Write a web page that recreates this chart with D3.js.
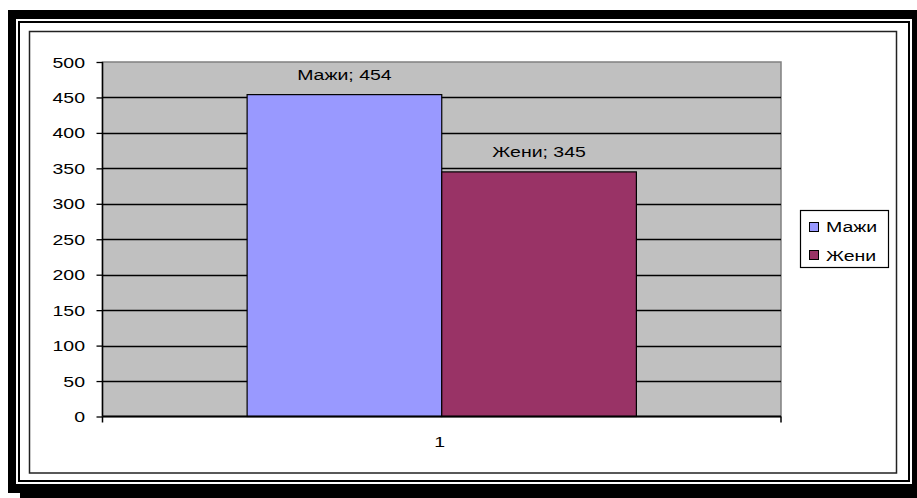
<!DOCTYPE html>
<html><head><meta charset="utf-8">
<script src="https://cdn.jsdelivr.net/npm/d3@7"></script>
<style>html,body{margin:0;padding:0;background:#fff;}svg{display:block;}</style>
</head><body>
<script>
const categories = ["1"];
const seriesNames = ["Мажи", "Жени"];
const seriesValues = [454, 345];
const seriesColors = ["#9999FF", "#993366"];
const yTicks = [0, 50, 100, 150, 200, 250, 300, 350, 400, 450, 500];

const W = 917, H = 498;
const svg = d3.select("body").append("svg").attr("width", W).attr("height", H);
const font = "'Liberation Sans', Arial, sans-serif";
const SX = 1.3, FS = 15;

function label(sel, x, yy, txt, anchor) {
  return sel.append("text").attr("transform", `translate(${x},${yy}) scale(${SX},1)`)
    .attr("text-anchor", anchor || "start").attr("font-family", font).attr("font-size", FS)
    .attr("fill", "#000").text(txt);
}

// Frame with shadow
svg.append("rect").attr("x", 20).attr("y", 22).attr("width", 897).attr("height", 476).attr("fill", "#000");
svg.append("rect").attr("x", 8).attr("y", 10).attr("width", 909).attr("height", 483).attr("fill", "#000");
svg.append("rect").attr("x", 16).attr("y", 19).attr("width", 896).attr("height", 465).attr("fill", "#fff");
svg.append("rect").attr("x", 19).attr("y", 22).attr("width", 890).attr("height", 459)
  .attr("fill", "none").attr("stroke", "#000").attr("stroke-width", 2);
// chart area border
svg.append("rect").attr("x", 29.5).attr("y", 31.5).attr("width", 867).attr("height", 441.5)
  .attr("fill", "#fff").attr("stroke", "#222").attr("stroke-width", 1.5);

const plot = {l: 102.5, r: 781, t: 62, b: 416.5};
const y = d3.scaleLinear().domain([0, 500]).range([plot.b, plot.t]);
const x0 = d3.scaleBand().domain(categories).range([plot.l, plot.r]).paddingInner(0).paddingOuter(0.3715);
const x1 = d3.scaleBand().domain(seriesNames).range([0, x0.bandwidth()]);

// plot bg
svg.append("rect").attr("x", plot.l).attr("y", plot.t).attr("width", plot.r - plot.l).attr("height", plot.b - plot.t)
  .attr("fill", "#C0C0C0").attr("stroke", "#808080").attr("stroke-width", 1.5);

// gridlines
svg.append("g").selectAll("line").data(yTicks.filter(d => d > 0 && d < 500)).join("line")
  .attr("x1", plot.l).attr("x2", plot.r).attr("y1", d => Math.round(y(d)) + 0.5).attr("y2", d => Math.round(y(d)) + 0.5)
  .attr("stroke", "#000").attr("stroke-width", 1.3);

// bars
const g = svg.append("g");
categories.forEach(c => {
  seriesNames.forEach((s, i) => {
    const bx = x0(c) + x1(s);
    g.append("rect").attr("x", bx).attr("y", y(seriesValues[i])).attr("width", x1.bandwidth())
      .attr("height", y(0) - y(seriesValues[i])).attr("fill", seriesColors[i])
      .attr("stroke", "#000").attr("stroke-width", 1.2);
    label(g, bx + x1.bandwidth() / 2, y(seriesValues[i]) - 15, s + "; " + seriesValues[i], "middle");
  });
});

// y axis
const yAxis = d3.axisLeft(y).tickValues(yTicks).tickSize(6).tickFormat("");
const ya = svg.append("g").attr("transform", `translate(${plot.l},0)`).call(yAxis);
ya.select(".domain").attr("stroke", "#000").attr("stroke-width", 1.5).attr("d", `M0,${plot.t}V${plot.b}`);
ya.selectAll(".tick line").attr("stroke", "#000").attr("stroke-width", 1.3);
yTicks.forEach(v => label(svg, 85, y(v) + 5.5, String(v), "end"));

// x axis
const xa = svg.append("g").attr("transform", `translate(0,${plot.b})`);
xa.append("line").attr("x1", plot.l).attr("x2", plot.r).attr("stroke", "#000").attr("stroke-width", 2);
[plot.l, plot.r].forEach(px => xa.append("line").attr("x1", px).attr("x2", px).attr("y1", 0).attr("y2", 6)
  .attr("stroke", "#000").attr("stroke-width", 1.5));
categories.forEach(c => label(xa, x0(c) + x0.bandwidth() / 2 - 2, 30, c, "middle"));

// legend
const lg = svg.append("g");
lg.append("rect").attr("x", 800.5).attr("y", 210.5).attr("width", 88).attr("height", 57)
  .attr("fill", "#fff").attr("stroke", "#000").attr("stroke-width", 1.2);
seriesNames.forEach((s, i) => {
  lg.append("rect").attr("x", 809.5).attr("y", 222.5 + i * 28).attr("width", 9).attr("height", 9)
    .attr("fill", seriesColors[i]).attr("stroke", "#000").attr("stroke-width", 1);
  label(lg, 826, 231.5 + i * 29, s, "start");
});
</script>
</body></html>
